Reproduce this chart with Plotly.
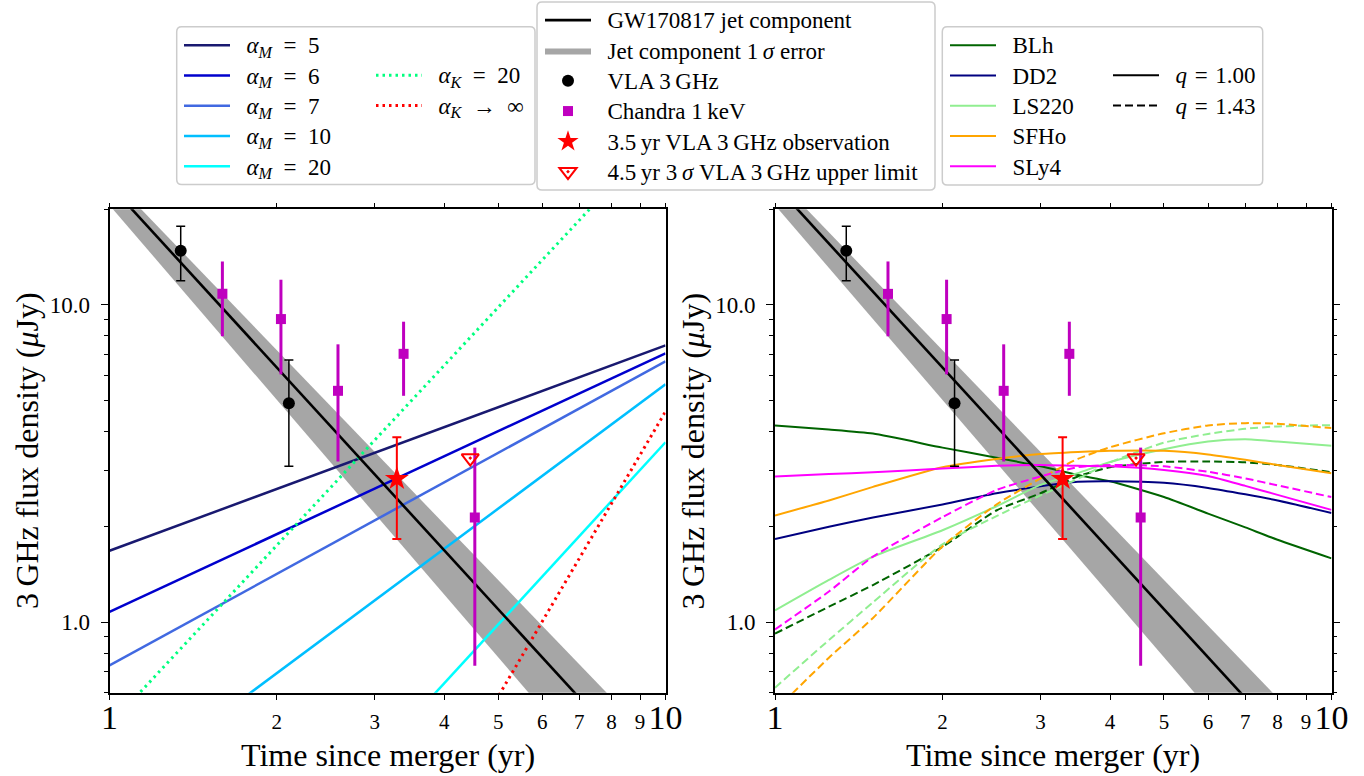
import math
import plotly.graph_objects as go

W, H = 1364, 776
FONT = "Liberation Serif"

# ---------------- data ----------------
T_JET = [1.0, 10.0]
F_JET = [23.9, 0.292]
F_BAND_LOW = [20.6, 0.189]
F_BAND_HIGH = [25.4, 0.385]

T_VLA = [1.343, 2.102]
F_VLA = [14.8, 4.90]
E_VLA = [2.9, 1.8]

T_CXO = [1.596, 2.034, 2.576, 3.38, 4.54]
F_CXO = [10.83, 9.02, 5.36, 7.01, 2.14]
E_CXO = [2.87, 2.98, 2.15, 1.84, 1.41]

T_VLA35 = [3.287]
F_VLA35 = [2.83]
E_VLA35 = [1.0]

T_UL = [4.455]
F_UL = [3.29]

# left panel: kilonova afterglow power laws
ALPHA_M_NAMES = ["5", "6", "7", "10", "20"]
ALPHA_M_T = [[1, 10], [1, 10], [1, 10], [1, 10], [3.5, 10]]
ALPHA_M_F = [[1.68, 7.45], [1.078, 7.03], [0.731, 6.64], [0.2805, 5.62], [0.498, 3.69]]
ALPHA_K_NAMES = ["=\u200220", "→\u2002∞"]
ALPHA_K_T = [[1, 10], [4.5, 10]]
ALPHA_K_F = [[0.474, 36.2], [0.426, 4.61]]

# right panel: EoS light curves
T_EOS = [1.0, 1.25, 1.5, 2.0, 2.5, 3.0, 3.5, 4.0, 5.0, 6.0, 7.0, 8.0, 10.0]
EOS_NAMES = ["BLh", "DD2", "LS220", "SFHo", "SLy4"]
EOS_Q100 = [
    [4.17, 4.05, 3.93, 3.55, 3.30, 3.10, 2.91, 2.78, 2.48, 2.20, 1.99, 1.82, 1.59],
    [1.83, 2.00, 2.14, 2.35, 2.55, 2.68, 2.77, 2.78, 2.75, 2.65, 2.53, 2.42, 2.21],
    [1.09, 1.36, 1.61, 1.95, 2.32, 2.71, 2.95, 3.20, 3.51, 3.71, 3.77, 3.71, 3.60],
    [2.17, 2.42, 2.67, 3.08, 3.27, 3.39, 3.44, 3.47, 3.47, 3.38, 3.25, 3.13, 2.95],
    [2.88, 2.93, 2.97, 3.05, 3.11, 3.13, 3.11, 3.10, 3.02, 2.89, 2.69, 2.52, 2.26],
]
EOS_Q143 = [
    [0.921, 1.12, 1.31, 1.73, 2.25, 2.55, 2.88, 3.08, 3.20, 3.21, 3.19, 3.13, 2.97],
    [None] * 13,
    [0.622, 0.879, 1.156, 1.76, 2.16, 2.51, 2.83, 3.19, 3.68, 3.92, 4.07, 4.14, 4.18],
    [0.527, 0.773, 1.032, 1.734, 2.35, 2.84, 3.27, 3.56, 3.94, 4.17, 4.24, 4.22, 4.09],
    [0.949, 1.25, 1.61, 2.145, 2.61, 2.88, 3.08, 3.13, 3.10, 2.98, 2.84, 2.70, 2.48],
]
Q_NAMES = ["1.00", "1.43"]

X_TICKS = [1, 2, 3, 4, 5, 6, 7, 8, 9, 10]
Y_TICKS = [1, 10]
Y_TICKTEXT = ["1.0", "10.0"]
Y_MINOR = [0.6, 0.7, 0.8, 0.9, 2, 3, 4, 5, 6, 7, 8, 9, 20]

# ---------------- styles ----------------
ALPHA_M_COLORS = ["#191970", "#0000CD", "#4169E1", "#00BFFF", "#00FFFF"]
ALPHA_K_COLORS = ["#00FF7F", "#FF0000"]
EOS_COLORS = ["#006400", "#000080", "#90EE90", "#FFA500", "#FF00FF"]
CXO_COLOR = "#BF00BF"
BAND_COLOR = "#a6a6a6"
DOT = "2.5px,4px"
DASH = "8px,4px"

LEFT_DOM = [109.5 / W, 665.5 / W]
RIGHT_DOM = [775 / W, 1331.5 / W]
Y_DOM = [1 - 692.7 / H, 1 - 209.3 / H]


def lab(s):
    """Legend label: slightly larger text with a gap after the symbol."""
    return f'<span style="font-size:23px">\u2002{s}</span>'


fig = go.Figure()


def band(xa, ya, show):
    fig.add_trace(go.Scatter(
        x=T_JET + T_JET[::-1], y=F_BAND_LOW + F_BAND_HIGH[::-1],
        xaxis=xa, yaxis=ya, mode="lines", fill="toself", fillcolor=BAND_COLOR,
        line=dict(width=0, color=BAND_COLOR),
        name=lab("Jet component 1\u2009<i>σ</i> error"),
        legend="legend3", legendrank=2, showlegend=show, hoverinfo="skip"))


def jet_line(xa, ya, show):
    fig.add_trace(go.Scatter(
        x=T_JET, y=F_JET, xaxis=xa, yaxis=ya, mode="lines",
        line=dict(color="black", width=2.6), name=lab("GW170817 jet component"),
        legend="legend3", legendrank=1, showlegend=show))


def data_points(xa, ya, show):
    fig.add_trace(go.Scatter(
        x=T_VLA, y=F_VLA, xaxis=xa, yaxis=ya, mode="markers",
        marker=dict(symbol="circle", size=12, color="black"),
        error_y=dict(type="data", array=E_VLA, color="black", thickness=1.5, width=4.5),
        name=lab("VLA 3\u2009GHz"), legend="legend3", legendrank=3, showlegend=show))
    fig.add_trace(go.Scatter(
        x=T_CXO, y=F_CXO, xaxis=xa, yaxis=ya, mode="markers",
        marker=dict(symbol="square", size=10, color=CXO_COLOR),
        error_y=dict(type="data", array=E_CXO, color=CXO_COLOR, thickness=3, width=0),
        name=lab("Chandra 1\u2009keV"), legend="legend3", legendrank=4, showlegend=show))
    fig.add_trace(go.Scatter(
        x=T_VLA35, y=F_VLA35, xaxis=xa, yaxis=ya, mode="markers",
        marker=dict(symbol="star", size=18, color="red"),
        error_y=dict(type="data", array=E_VLA35, color="red", thickness=2, width=4.5),
        name=lab("3.5\u2009yr VLA 3\u2009GHz observation"), legend="legend3",
        legendrank=5, showlegend=show))
    fig.add_trace(go.Scatter(
        x=T_UL, y=F_UL, xaxis=xa, yaxis=ya, mode="markers",
        marker=dict(symbol="triangle-down-open-dot", size=15, color="red",
                    line=dict(width=2, color="red")),
        name=lab("4.5\u2009yr 3\u2009<i>σ</i> VLA 3\u2009GHz upper limit"), legend="legend3",
        legendrank=6, showlegend=show))


# bands
band("x", "y", True)
band("x2", "y2", False)

# left panel models
for name, t, f, c in zip(ALPHA_M_NAMES, ALPHA_M_T, ALPHA_M_F, ALPHA_M_COLORS):
    fig.add_trace(go.Scatter(
        x=t, y=f, xaxis="x", yaxis="y", mode="lines", line=dict(color=c, width=2.5),
        name=lab(f"<i>α</i><sub><i>M</i></sub>\u2002=\u2002{name}"), legend="legend"))
for name, t, f, c in zip(ALPHA_K_NAMES, ALPHA_K_T, ALPHA_K_F, ALPHA_K_COLORS):
    fig.add_trace(go.Scatter(
        x=t, y=f, xaxis="x", yaxis="y", mode="lines",
        line=dict(color=c, width=3, dash=DOT),
        name=lab(f"<i>α</i><sub><i>K</i></sub>\u2002{name}"), legend="legend2"))

# right panel models
for name, f1, f2, c in zip(EOS_NAMES, EOS_Q100, EOS_Q143, EOS_COLORS):
    fig.add_trace(go.Scatter(
        x=T_EOS, y=f1, xaxis="x2", yaxis="y2", mode="lines",
        line=dict(color=c, width=2, shape="spline", smoothing=0.6),
        name=lab(name), legend="legend4"))
    fig.add_trace(go.Scatter(
        x=T_EOS, y=f2, xaxis="x2", yaxis="y2", mode="lines",
        line=dict(color=c, width=2, dash=DASH, shape="spline", smoothing=0.6),
        name=name + " q=1.43", showlegend=False))
for qn, d in zip(Q_NAMES, ["solid", DASH]):
    fig.add_trace(go.Scatter(
        x=[None], y=[None], xaxis="x2", yaxis="y2", mode="lines",
        line=dict(color="black", width=2, dash=d),
        name=lab(f"<i>q</i>\u2004=\u2004{qn}"), legend="legend5"))

jet_line("x", "y", True)
jet_line("x2", "y2", False)
data_points("x", "y", True)
data_points("x2", "y2", False)

# ---------------- axes ----------------
big = lambda s: f'<span style="font-size:34px">{s}</span>'
x_ticktext = [big("1")] + [str(v) for v in X_TICKS[1:-1]] + [big("10")]


def xaxis(dom, anchor):
    return dict(domain=dom, anchor=anchor, type="log", range=[0, 1],
                showgrid=False, zeroline=False, showline=True, linecolor="black",
                linewidth=1.6, mirror="ticks", ticks="outside", ticklen=5,
                tickwidth=1.3, tickcolor="black", tickvals=X_TICKS,
                ticktext=x_ticktext, ticklabelstandoff=4,
                tickfont=dict(family=FONT, size=21, color="black"),
                automargin=False, fixedrange=True)


def yaxis(anchor, mirror):
    return dict(domain=Y_DOM, anchor=anchor, type="log",
                range=[math.log10(0.6), math.log10(20)],
                showgrid=False, zeroline=False, showline=True, linecolor="black",
                linewidth=1.6, mirror=mirror, ticks="outside", ticklen=7,
                tickwidth=1.3, tickcolor="black", tickvals=Y_TICKS,
                ticktext=Y_TICKTEXT, ticklabelstandoff=6,
                tickfont=dict(family=FONT, size=23, color="black"),
                minor=dict(tickvals=Y_MINOR, ticks="outside", ticklen=4,
                           tickwidth=1.1, tickcolor="black"),
                automargin=False, fixedrange=True)


def legend(x, y):
    return dict(x=x / W, y=1 - y / H, xanchor="left", yanchor="top",
                bgcolor="rgba(0,0,0,0)", borderwidth=0, itemwidth=46,
                font=dict(family=FONT, size=21, color="black"),
                tracegroupgap=0, itemclick=False, itemdoubleclick=False)


def rounded_box(x0, y0, x1, y1, r=5):
    X = lambda v: v / W
    Y = lambda v: 1 - v / H
    p = (f"M{X(x0 + r)},{Y(y0)} L{X(x1 - r)},{Y(y0)} Q{X(x1)},{Y(y0)} {X(x1)},{Y(y0 + r)} "
         f"L{X(x1)},{Y(y1 - r)} Q{X(x1)},{Y(y1)} {X(x1 - r)},{Y(y1)} "
         f"L{X(x0 + r)},{Y(y1)} Q{X(x0)},{Y(y1)} {X(x0)},{Y(y1 - r)} "
         f"L{X(x0)},{Y(y0 + r)} Q{X(x0)},{Y(y0)} {X(x0 + r)},{Y(y0)} Z")
    return dict(type="path", path=p, xref="paper", yref="paper",
                line=dict(color="#cccccc", width=1.5), fillcolor="white", layer="below")


title_font = dict(family=FONT, size=32, color="black")
annotations = [
    dict(text="Time since merger (yr)", x=387.5 / W, y=1 - 755 / H, xref="paper", yref="paper",
         xanchor="center", yanchor="middle", showarrow=False, font=title_font),
    dict(text="Time since merger (yr)", x=1053 / W, y=1 - 755 / H, xref="paper", yref="paper",
         xanchor="center", yanchor="middle", showarrow=False, font=title_font),
    dict(text="3\u2009GHz flux density (<i>μ</i>Jy)", x=27 / W, y=1 - 451 / H, xref="paper",
         yref="paper", xanchor="center", yanchor="middle", textangle=-90, showarrow=False,
         font=title_font),
    dict(text="3\u2009GHz flux density (<i>μ</i>Jy)", x=692.5 / W, y=1 - 451 / H, xref="paper",
         yref="paper", xanchor="center", yanchor="middle", textangle=-90, showarrow=False,
         font=title_font),
]

fig.update_layout(
    width=W, height=H, margin=dict(l=0, r=0, t=0, b=0),
    paper_bgcolor="white", plot_bgcolor="white", template="none",
    font=dict(family=FONT, color="black"),
    xaxis=xaxis(LEFT_DOM, "y"), yaxis=yaxis("x", True),
    xaxis2=xaxis(RIGHT_DOM, "y2"), yaxis2=yaxis("x2", "ticks"),
    legend=legend(179, 25), legend2=legend(371, 55), legend3=legend(540, 0),
    legend4=legend(945, 25), legend5=legend(1108, 55),
    shapes=[rounded_box(176.7, 26.7, 535, 184.5), rounded_box(537, 2, 935, 190),
            rounded_box(942.3, 26.7, 1262.7, 185)],
    annotations=annotations,
    showlegend=True,
)

fig.write_html("out.html")
